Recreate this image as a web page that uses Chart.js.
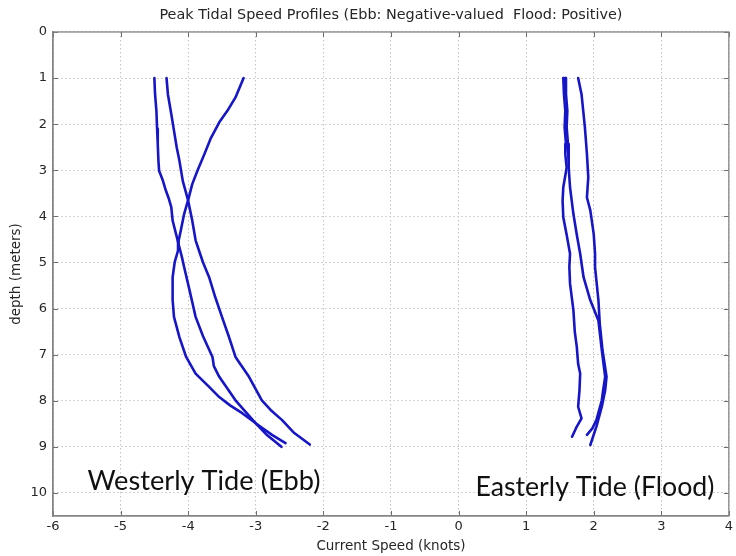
<!DOCTYPE html>
<html>
<head>
<meta charset="utf-8">
<script src="https://cdn.jsdelivr.net/npm/chart.js@4.4.1/dist/chart.umd.min.js"></script>
<style>
  html, body { margin: 0; padding: 0; background: #ffffff; }
  #wrap { width: 736px; height: 556px; }
</style>
</head>
<body>
<div id="wrap"><canvas id="c" width="736" height="556"></canvas></div>
<script>
// ---------- data ----------
const speedTicks = [-6, -5, -4, -3, -2, -1, 0, 1, 2, 3, 4];
const depthTicks = [0, 1, 2, 3, 4, 5, 6, 7, 8, 9, 10];

const westA_depth = [1.0, 1.35, 1.71, 2.1, 2.43, 2.8, 3.01, 3.2, 3.44, 3.6, 3.8, 4.09, 4.38, 4.67, 4.9, 5.1, 5.6, 6.18, 6.6, 7.05, 7.25, 7.48, 7.99, 8.49, 8.75, 9.0];
const westA_speed = [-4.50, -4.49, -4.47, -4.46, -4.45, -4.44, -4.43, -4.38, -4.33, -4.29, -4.25, -4.23, -4.18, -4.13, -4.09, -4.06, -3.98, -3.89, -3.78, -3.64, -3.62, -3.54, -3.30, -3.00, -2.83, -2.62];

const westB_depth = [1.0, 1.35, 1.78, 2.14, 2.5, 2.79, 3.23, 3.66, 4.09, 4.52, 4.74, 5.0, 5.32, 5.75, 6.18, 6.6, 7.05, 7.48, 7.99, 8.2, 8.42, 8.7, 8.95];
const westB_speed = [-4.32, -4.30, -4.25, -4.21, -4.17, -4.13, -4.08, -4.00, -3.94, -3.89, -3.84, -3.78, -3.69, -3.60, -3.50, -3.40, -3.30, -3.10, -2.91, -2.78, -2.61, -2.43, -2.20];

const westC_depth = [1.0, 1.42, 1.71, 1.96, 2.32, 2.65, 3.0, 3.3, 3.59, 3.95, 4.31, 4.52, 4.74, 5.0, 5.32, 5.82, 6.18, 6.62, 7.05, 7.41, 7.7, 7.92, 8.1, 8.27, 8.53, 8.74, 8.92];
const westC_speed = [-3.18, -3.30, -3.42, -3.54, -3.67, -3.76, -3.86, -3.94, -3.99, -4.06, -4.11, -4.14, -4.15, -4.20, -4.23, -4.23, -4.21, -4.13, -4.03, -3.89, -3.69, -3.54, -3.38, -3.20, -2.96, -2.76, -2.56];

const eastD_depth = [1.0, 1.35, 1.71, 2.07, 2.43, 2.65, 2.94, 3.2, 3.37, 3.66, 4.02, 4.4, 4.81, 5.1, 5.46, 6.04, 6.5, 6.83, 7.2, 7.41, 7.77, 8.13, 8.38, 8.56, 8.78];
const eastD_speed = [1.55, 1.56, 1.58, 1.57, 1.59, 1.58, 1.60, 1.57, 1.55, 1.54, 1.55, 1.60, 1.65, 1.64, 1.65, 1.70, 1.72, 1.75, 1.77, 1.80, 1.79, 1.77, 1.82, 1.75, 1.68];

const eastE_depth = [1.0, 1.35, 1.71, 2.07, 2.43, 2.65, 2.94, 3.37, 3.95, 4.4, 4.81, 5.32, 5.82, 6.26, 6.9, 7.48, 7.77, 7.99, 8.42, 8.6, 8.74];
const eastE_speed = [1.58, 1.59, 1.61, 1.60, 1.62, 1.63, 1.63, 1.65, 1.70, 1.75, 1.80, 1.85, 1.95, 2.07, 2.12, 2.17, 2.14, 2.12, 2.04, 1.98, 1.90];

const eastF_depth = [1.0, 1.35, 2.07, 2.65, 3.15, 3.59, 3.87, 4.38, 4.81, 5.1, 5.82, 6.33, 6.9, 7.48, 7.77, 8.13, 8.56, 8.96];
const eastF_speed = [1.77, 1.82, 1.87, 1.90, 1.92, 1.90, 1.95, 2.00, 2.02, 2.02, 2.07, 2.09, 2.13, 2.19, 2.17, 2.12, 2.04, 1.95];

const chartTitle = 'Peak Tidal Speed Profiles (Ebb: Negative-valued  Flood: Positive)';
const xTitle = 'Current Speed (knots)';
const yTitle = 'depth (meters)';
const noteTexts = ['Westerly Tide (Ebb)', 'Easterly Tide (Flood)'];

// ---------- presentation ----------
const LINE_COLOR = '#1616c8';
const TEXT_COLOR = '#262626';
const AXIS_COLOR = '#858585';
const GRID_COLOR = '#c4c4c4';
const TICK_FONT = "'DejaVu Sans'";

// note placement (in data units) and target widths (px)
const notePlacement = [
  { x: -5.49, y: 9.93, width: 233 },
  { x: 0.25,  y: 10.06, width: 239 }
];

function pts(depths, speeds) {
  return depths.map((d, i) => ({ x: speeds[i], y: d }));
}

const series = [
  pts(westA_depth, westA_speed),
  pts(westB_depth, westB_speed),
  pts(westC_depth, westC_speed),
  pts(eastD_depth, eastD_speed),
  pts(eastE_depth, eastE_speed),
  pts(eastF_depth, eastF_speed)
];

const frameAndNotes = {
  id: 'frameAndNotes',
  afterDraw(chart) {
    const { ctx, chartArea: a, scales } = chart;
    const xs = scales.x, ys = scales.y;
    ctx.save();
    // inward tick marks
    ctx.strokeStyle = '#6e6e6e';
    ctx.lineWidth = 1;
    ctx.beginPath();
    speedTicks.forEach(v => {
      const px = Math.round(xs.getPixelForValue(v)) + 0.5;
      ctx.moveTo(px, a.bottom); ctx.lineTo(px, a.bottom - 5);
      ctx.moveTo(px, a.top); ctx.lineTo(px, a.top + 5);
    });
    depthTicks.forEach(v => {
      const py = Math.round(ys.getPixelForValue(v)) + 0.5;
      ctx.moveTo(a.left, py); ctx.lineTo(a.left + 5, py);
      ctx.moveTo(a.right, py); ctx.lineTo(a.right - 5, py);
    });
    ctx.stroke();
    // frame
    ctx.strokeStyle = AXIS_COLOR;
    ctx.lineWidth = 1.3;
    ctx.strokeRect(a.left, a.top, a.right - a.left, a.bottom - a.top);
    // notes
    ctx.fillStyle = '#111111';
    ctx.textBaseline = 'alphabetic';
    ctx.textAlign = 'left';
    ctx.font = "26px Lato";
    noteTexts.forEach((t, i) => {
      const p = notePlacement[i];
      const px = xs.getPixelForValue(p.x);
      const py = ys.getPixelForValue(p.y);
      const w = ctx.measureText(t).width;
      const sx = p.width / w;
      ctx.save();
      ctx.translate(px, py);
      ctx.scale(sx, 1);
      ctx.fillText(t, 0, 0);
      ctx.restore();
    });
    ctx.restore();
  }
};

new Chart(document.getElementById('c'), {
  type: 'scatter',
  data: {
    datasets: series.map((s, i) => ({
      label: 'profile ' + (i + 1),
      data: s,
      showLine: true,
      borderColor: LINE_COLOR,
      backgroundColor: LINE_COLOR,
      borderWidth: 2.6,
      pointRadius: 0,
      pointHoverRadius: 0,
      tension: 0,
      fill: false,
      borderJoinStyle: 'round',
      borderCapStyle: 'round'
    }))
  },
  options: {
    responsive: false,
    animation: false,
    events: [],
    layout: { padding: { left: 0, right: 3, top: 0, bottom: 0 } },
    plugins: {
      legend: { display: false },
      tooltip: { enabled: false },
      title: {
        display: true,
        fullSize: false,
        text: chartTitle,
        color: TEXT_COLOR,
        font: { family: TICK_FONT, size: 14.4, weight: 'normal', lineHeight: 1.2 },
        padding: { top: 6.5, bottom: 8.2 }
      }
    },
    scales: {
      x: {
        type: 'linear',
        min: -6,
        max: 4,
        afterBuildTicks(scale) { scale.ticks = speedTicks.map(v => ({ value: v })); },
        afterFit(scale) { scale.height = 40; },
        ticks: {
          color: TEXT_COLOR,
          font: { family: TICK_FONT, size: 13 },
          padding: 3,
          maxRotation: 0,
          autoSkip: false
        },
        grid: { color: GRID_COLOR, lineWidth: 1, drawTicks: false },
        border: { display: true, color: AXIS_COLOR, width: 1.3, dash: [1.5, 2.5] },
        title: {
          display: true,
          text: xTitle,
          color: TEXT_COLOR,
          font: { family: TICK_FONT, size: 13.5, lineHeight: 1.2 },
          padding: { top: 0, bottom: 1 }
        }
      },
      y: {
        type: 'linear',
        reverse: true,
        min: 0,
        max: 10.5,
        afterBuildTicks(scale) { scale.ticks = depthTicks.map(v => ({ value: v })); },
        afterFit(scale) { scale.width = 53; },
        ticks: {
          color: TEXT_COLOR,
          font: { family: TICK_FONT, size: 13 },
          padding: 6,
          autoSkip: false
        },
        grid: { color: GRID_COLOR, lineWidth: 1, drawTicks: false },
        border: { display: true, color: AXIS_COLOR, width: 1.3, dash: [1.5, 2.5] },
        title: {
          display: true,
          text: yTitle,
          color: TEXT_COLOR,
          font: { family: TICK_FONT, size: 13.5, lineHeight: 1.2 },
          padding: { top: 8, bottom: 0 }
        }
      }
    }
  },
  plugins: [frameAndNotes]
});
</script>
</body>
</html>
